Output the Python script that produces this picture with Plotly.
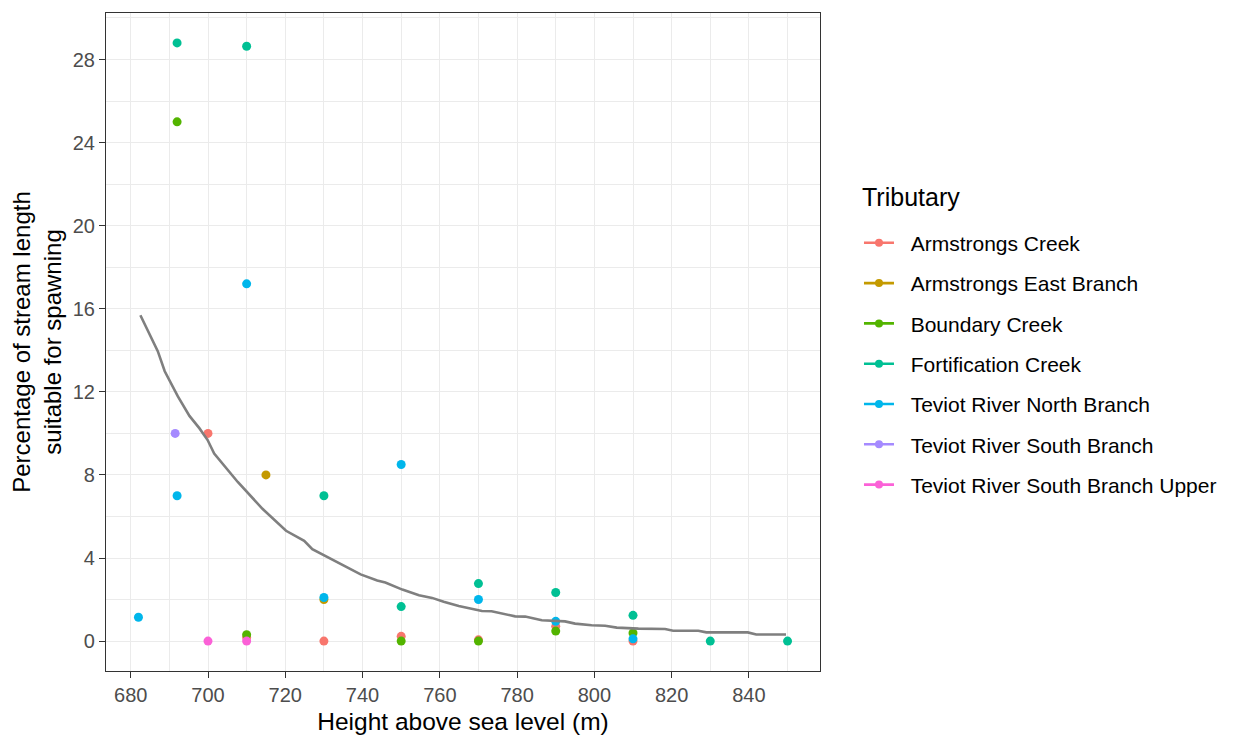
import plotly.graph_objects as go

# ---- data ----
tributaries = [
    "Armstrongs Creek",
    "Armstrongs East Branch",
    "Boundary Creek",
    "Fortification Creek",
    "Teviot River North Branch",
    "Teviot River South Branch",
    "Teviot River South Branch Upper",
]
colors = ["#F8766D", "#C49A00", "#53B400", "#00C094", "#00B6EB", "#A58AFF", "#FB61D7"]

armstrongs_creek_x = [700, 710, 730, 750, 770, 790, 810]
armstrongs_creek_y = [10.0, 0.17, 0.0, 0.23, 0.06, 0.71, 0.0]

armstrongs_east_x = [715, 730]
armstrongs_east_y = [8.0, 2.0]

boundary_creek_x = [692, 710, 750, 770, 790, 810]
boundary_creek_y = [25.0, 0.31, 0.0, 0.0, 0.48, 0.39]

fortification_x = [692, 710, 730, 750, 770, 790, 810, 830, 850]
fortification_y = [28.8, 28.64, 7.0, 1.66, 2.77, 2.34, 1.24, 0.0, 0.0]

teviot_north_x = [682, 692, 710, 730, 750, 770, 790, 810]
teviot_north_y = [1.15, 7.0, 17.2, 2.1, 8.5, 2.0, 0.95, 0.11]

teviot_south_x = [691.5]
teviot_south_y = [10.0]

teviot_south_upper_x = [700, 710]
teviot_south_upper_y = [0.0, 0.0]

series_x = [armstrongs_creek_x, armstrongs_east_x, boundary_creek_x, fortification_x,
            teviot_north_x, teviot_south_x, teviot_south_upper_x]
series_y = [armstrongs_creek_y, armstrongs_east_y, boundary_creek_y, fortification_y,
            teviot_north_y, teviot_south_y, teviot_south_upper_y]

fit_x = [682.5, 687.0, 688.8, 692.2, 695.2, 697.8, 699.9, 701.6, 707.7, 714.1, 720.2,
         724.9, 727.0, 733.5, 739.5, 743.8, 745.9, 750.3, 754.6, 758.0, 761.0, 764.9,
         770.9, 773.4, 779.5, 782.1, 786.4, 792.4, 795.0, 799.3, 802.8, 805.8, 811.4,
         818.3, 820.4, 826.9, 829.0, 839.7, 841.9, 849.6]
fit_y = [15.69, 13.96, 12.99, 11.78, 10.84, 10.24, 9.68, 9.03, 7.66, 6.37, 5.31,
         4.83, 4.43, 3.78, 3.21, 2.92, 2.82, 2.48, 2.21, 2.08, 1.89, 1.69,
         1.45, 1.44, 1.19, 1.18, 1.00, 0.95, 0.84, 0.76, 0.74, 0.65, 0.60,
         0.58, 0.50, 0.50, 0.42, 0.42, 0.32, 0.32]

x_ticks = [680, 700, 720, 740, 760, 780, 800, 820, 840]
y_ticks = [0, 4, 8, 12, 16, 20, 24, 28]

FONT = "Liberation Sans, Arial, sans-serif"

fig = go.Figure()

for i, name in enumerate(tributaries):
    fig.add_trace(go.Scatter(
        x=series_x[i], y=series_y[i], mode="markers",
        marker=dict(color=colors[i], size=9, line=dict(width=0)),
        name=name, showlegend=False, legendgroup=name,
    ))

fig.add_trace(go.Scatter(
    x=fit_x, y=fit_y, mode="lines",
    line=dict(color="#7F7F7F", width=2.6),
    showlegend=False, hoverinfo="skip",
))

# legend-only entries (line + point keys like ggplot)
for i, name in enumerate(tributaries):
    fig.add_trace(go.Scatter(
        x=[None], y=[None], mode="lines+markers",
        marker=dict(color=colors[i], size=8),
        line=dict(color=colors[i], width=2.6),
        name="\u00a0\u00a0" + name, legendgroup=name, showlegend=True,
    ))

axis_common = dict(
    showline=True, linecolor="#333333", linewidth=1.2, mirror=True,
    ticks="outside", ticklen=6, tickcolor="#333333", tickwidth=1.2,
    showgrid=True, gridcolor="#EBEBEB", gridwidth=1.3,
    zeroline=False,
    tickfont=dict(family=FONT, size=20, color="#4D4D4D"),
)

fig.update_layout(
    width=1228, height=730,
    paper_bgcolor="white", plot_bgcolor="white",
    margin=dict(l=98, r=416, t=5, b=67),
    font=dict(family=FONT, color="black"),
    xaxis=dict(
        range=[673.6, 858.4], tickvals=x_ticks,
        title=dict(text="Height above sea level (m)", font=dict(family=FONT, size=24.5, color="black"), standoff=7),
        minor=dict(dtick=10, tick0=670, showgrid=True, gridcolor="#EBEBEB", gridwidth=0.8),
        **axis_common,
    ),
    yaxis=dict(
        range=[-1.44, 30.24], tickvals=y_ticks,
        title=dict(text="Percentage of stream length<br>suitable for spawning", font=dict(family=FONT, size=24, color="black"), standoff=8),
        minor=dict(dtick=2, tick0=0, showgrid=True, gridcolor="#EBEBEB", gridwidth=0.8),
        **axis_common,
    ),
    legend=dict(
        font=dict(family=FONT, size=21, color="black"),
        x=1.0546, xanchor="left", y=0.4663, yanchor="middle",
        tracegroupgap=10, itemwidth=30, bgcolor="rgba(0,0,0,0)",
    ),
    annotations=[dict(
        text="Tributary", xref="paper", yref="paper", x=1.0565, y=0.72,
        xanchor="left", yanchor="middle", showarrow=False,
        font=dict(family=FONT, size=25, color="black"),
    )],
    showlegend=True,
)

fig.write_html("out.html")
